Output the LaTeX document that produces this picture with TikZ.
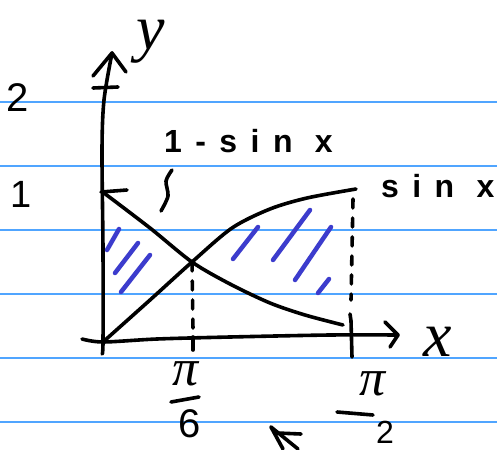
\documentclass[tikz,border=0pt]{standalone}
\usepackage{fontspec}
\setmainfont{Liberation Sans}
\newfontfamily\serifhand{Liberation Serif}
\definecolor{ruleblue}{RGB}{80,165,255}
\definecolor{hatchblue}{RGB}{60,60,205}
\begin{document}
\begin{tikzpicture}[x=1pt,y=-1pt,line cap=round,line join=round,
  ink/.style={draw=black,line width=3.6pt},
  hatch/.style={draw=hatchblue,line width=4.5pt},
  ruling/.style={draw=ruleblue,line width=1.6pt},
  dashline/.style={ink,dash pattern=on 9pt off 10pt},
  lbl/.style={inner sep=0pt,text=black},
  hand/.style={lbl,font=\fontsize{32}{32}\selectfont\bfseries\addfontfeature{LetterSpace=42}},
  sym/.style={lbl,font=\serifhand\itshape\fontsize{#1}{#1}\selectfont}]
\useasboundingbox (0,0) rectangle (497,449);
\fill[white] (0,0) rectangle (497,449);
% ruled paper
\foreach \yy in {102,166,230,294,358,422} \draw[ruling] (0,\yy) -- (497,\yy);
% key points
\coordinate (O) at (103,342);
\coordinate (Ytop) at (112,53);
\coordinate (Xtip) at (398,335);
\coordinate (P) at (192,262);
\coordinate (S) at (356,189);
\coordinate (C) at (343,325);
% y axis
\draw[ink] plot[smooth] coordinates {(102,354) (O) (103,250) (102,150) (104,100) (Ytop)};
\draw[ink] (93,76) -- (Ytop) -- (126,72);
\draw[ink] (93,88) -- (118,87);
\draw[ink] (101,192) -- (127,190);
% x axis
\draw[ink] plot[smooth] coordinates {(82,339) (O) (157,339) (230,337) (330,335) (Xtip)};
\draw[ink] (385,322) -- (Xtip) -- (390,347);
% curves
\draw[ink] plot[smooth] coordinates {(O) (150,300) (P) (232,228) (270,209) (307,198) (S)};
\draw[ink] plot[smooth] coordinates {(104,193) (150,228) (P) (230,284) (270,303) (305,315) (C)};
% dashed verticals
\draw[dashline] (P) -- (193,330);
\draw[ink] (193,337) -- (193,350);
\draw[dashline] (353,199) -- (351,300);
\draw[ink] (350,314) -- (351,321) -- (352,357);
% hatching
\draw[hatch] (119,229) -- (107,250);
\draw[hatch] (138,243) -- (115,273);
\draw[hatch] (150,255) -- (121,292);
\draw[hatch] (258,227) -- (233,259);
\draw[hatch] (310,210) -- (273,260);
\draw[hatch] (331,227) -- (295,280);
\draw[hatch] (329,279) -- (318,293);
% pointer from label to curve
\draw[ink] plot[smooth] coordinates {(172,170) (166,181) (168,196) (161,211)};
% labels
\node[sym=64,anchor=base] (ylab) at (151,50) {y};
\node[sym=64] (xlab) at (438,342) {x};
\node[lbl,font=\fontsize{40}{40}\selectfont,anchor=base west] (two) at (6,112) {2};
\node[lbl,font=\fontsize{38}{38}\selectfont,anchor=base west] (one) at (10,207) {1};
\node[hand,anchor=base west] (lsin) at (164,153) {1-sin x};
\node[hand,anchor=base west] (sin) at (381,197) {sin x};
% pi/6
\node[sym=52] (pi6) at (186,374) {π};
\draw[ink] (171,402) -- (199,397);
\node[lbl,font=\fontsize{40}{40}\selectfont] (six) at (190,424) {6};
% pi/2
\node[sym=52] (pi2) at (373,384) {π};
\draw[ink] (337,412) -- (373,415);
\node[lbl,font=\fontsize{32}{32}\selectfont,anchor=base] (twob) at (385,443) {2};
% stray mark
\draw[ink] (271,427) -- (283,449);
\draw[ink] (271,427) -- (298,449);
\draw[ink] (277,433) -- (301,434);
\end{tikzpicture}
\end{document}
